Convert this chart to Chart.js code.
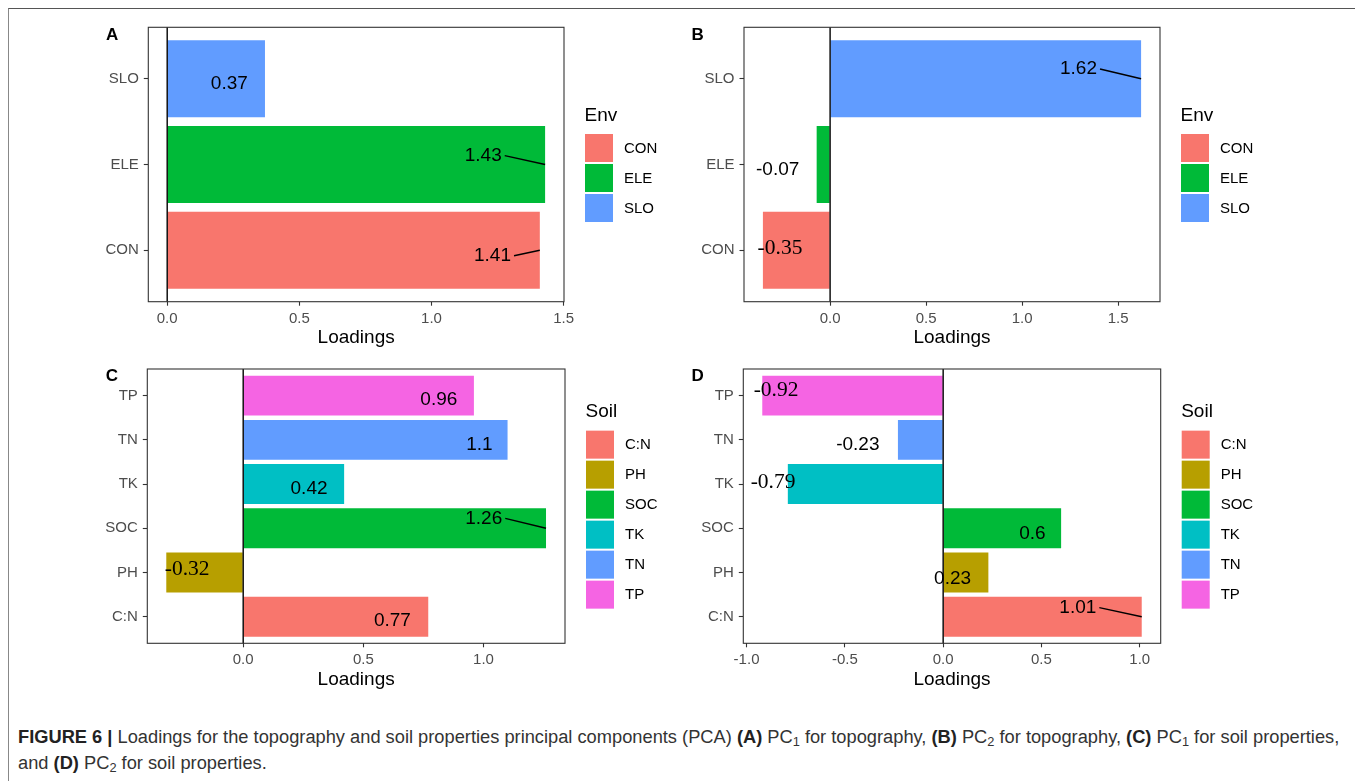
<!DOCTYPE html>
<html><head><meta charset="utf-8">
<script src="https://cdn.jsdelivr.net/npm/chart.js@4.4.1/dist/chart.umd.min.js"></script>
<style>
html,body{margin:0;padding:0;background:#fff;}
body{width:1355px;height:781px;position:relative;overflow:hidden;font-family:"Liberation Sans",Arial,sans-serif;}
.frame{position:absolute;left:8px;top:8px;width:1350px;height:790px;border-top:1.5px solid #555;border-left:1.5px solid #888;}
canvas{position:absolute;}
.cap{position:absolute;left:18px;white-space:nowrap;color:#333;font-size:15.5px;line-height:20px;}
.cap b{color:#222;}
.cap sub{font-size:70%;vertical-align:-3px;line-height:0;}
</style></head><body>
<div class="frame"></div>
<div class="cap" id="cap1" style="top:727px"><b>FIGURE 6 |</b> Loadings for the topography and soil properties principal components (PCA) <b>(A)</b> PC<sub>1</sub> for topography, <b>(B)</b> PC<sub>2</sub> for topography, <b>(C)</b> PC<sub>1</sub> for soil properties,</div>
<div class="cap" id="cap2" style="top:753px">and <b>(D)</b> PC<sub>2</sub> for soil properties.</div>
<script>
// ---- data ----
const envCategories = ['CON', 'ELE', 'SLO'];
const soilCategories = ['C:N', 'PH', 'SOC', 'TK', 'TN', 'TP'];
const pc1Topography = [1.41, 1.43, 0.37];
const pc2Topography = [-0.35, -0.07, 1.62];
const pc1Soil = [0.77, -0.32, 1.26, 0.42, 1.1, 0.96];
const pc2Soil = [1.01, 0.23, 0.6, -0.79, -0.23, -0.92];
const ticksA = [0, 0.5, 1.0, 1.5];
const ticksB = [0, 0.5, 1.0, 1.5];
const ticksC = [0, 0.5, 1.0];
const ticksD = [-1.0, -0.5, 0, 0.5, 1.0];
// repelled label positions (data units: [loading, category index])
const labelPosA = [[1.231, 0.936], [1.196, 2.103], [0.235, 2.939]];
const labelPosB = [[-0.261, 1.023], [-0.273, 1.936], [1.294, 3.114]];
const labelPosC = [[0.621, 0.904], [-0.233, 2.079], [1.001, 3.225], [0.274, 3.888], [0.983, 4.882], [0.814, 5.899]];
const labelPosD = [[0.685, 1.205], [0.048, 1.869], [0.454, 2.886], [-0.865, 4.030], [-0.434, 4.882], [-0.850, 6.125]];
const envColors = ['#F8766D', '#00BA38', '#619CFF'];
const soilColors = ['#F8766D', '#B79F00', '#00BA38', '#00BFC4', '#619CFF', '#F564E3'];

const SANS = '"Liberation Sans", Arial, sans-serif';
const SERIF = '"Liberation Serif", "Times New Roman", serif';
const X_AXIS_H = 50;

const panelPlugin = {
  id: 'panelDecor',
  afterDatasetsDraw(chart) {
    const p = chart.options.plugins.panelDecor;
    const ctx = chart.ctx, a = chart.chartArea, x = chart.scales.x, y = chart.scales.y;
    ctx.save();
    // zero line
    const zx = x.getPixelForValue(0);
    ctx.strokeStyle = '#000'; ctx.lineWidth = 1.4;
    ctx.beginPath(); ctx.moveTo(zx, a.top); ctx.lineTo(zx, a.bottom); ctx.stroke();
    // value labels
    p.labelPos.forEach((lp, i) => {
      const v = p.values[i];
      const txt = String(v);
      const serif = p.serifLabels.includes(p.categories[i]);
      ctx.font = serif ? ('21.5px ' + SERIF) : ('19px ' + SANS);
      ctx.textAlign = 'center'; ctx.textBaseline = 'middle'; ctx.fillStyle = '#000';
      const tx = x.getPixelForValue(lp[0]), ty = y.getPixelForValue(lp[1]);
      ctx.fillText(txt, tx, ty);
      const w = ctx.measureText(txt).width;
      const px = x.getPixelForValue(v), py = y.getPixelForValue(i + 1);
      const gap = v >= 0 ? px - (tx + w / 2) : (tx - w / 2) - px;
      if (gap > 24) {
        const sx = v >= 0 ? tx + w / 2 + 3 : tx - w / 2 - 3;
        ctx.strokeStyle = '#000'; ctx.lineWidth = 1.4;
        ctx.beginPath(); ctx.moveTo(sx, ty); ctx.lineTo(px, py); ctx.stroke();
      }
    });
    // panel border
    ctx.strokeStyle = '#333'; ctx.lineWidth = 1.1;
    ctx.strokeRect(a.left, a.top, a.right - a.left, a.bottom - a.top);
    // legend
    const n = p.categories.length;
    const lx = a.right + 21;
    const cy = (a.top + a.bottom) / 2;
    const ks = cy - (n * 30 + 25) / 2 + 27;
    ctx.textAlign = 'left'; ctx.textBaseline = 'middle';
    ctx.fillStyle = '#000'; ctx.font = '19px ' + SANS;
    ctx.fillText(p.legendTitle, lx - 0.5, ks - 18.5);
    p.categories.forEach((c, i) => {
      ctx.fillStyle = p.colors[i];
      ctx.fillRect(lx, ks + i * 30, 28, 28);
      ctx.fillStyle = '#000'; ctx.font = '15px ' + SANS;
      ctx.fillText(c, lx + 39, ks + i * 30 + 14.5);
    });
    // panel letter
    ctx.font = 'bold 17px ' + SANS; ctx.textBaseline = 'alphabetic'; ctx.fillStyle = '#000';
    ctx.fillText(p.letter, p.letterPos[0] - p.box[0], p.letterPos[1] - p.box[1]);
    ctx.restore();
  }
};

function buildPanel(p) {
  const canvas = document.createElement('canvas');
  canvas.width = p.box[2]; canvas.height = p.box[3];
  canvas.style.left = p.box[0] + 'px'; canvas.style.top = p.box[1] + 'px';
  canvas.style.width = p.box[2] + 'px'; canvas.style.height = p.box[3] + 'px';
  document.body.appendChild(canvas);
  const n = p.categories.length;
  const lo = Math.min(0, ...p.values), hi = Math.max(0, ...p.values);
  const pad = (hi - lo) * 0.05;
  new Chart(canvas, {
    type: 'bar',
    data: {
      datasets: [{
        data: p.values.map((v, i) => ({ x: v, y: i + 1 })),
        backgroundColor: p.colors, borderWidth: 0,
        barPercentage: 0.9, categoryPercentage: 1
      }]
    },
    options: {
      indexAxis: 'y', responsive: false, animation: false, devicePixelRatio: 1, events: [],
      layout: { padding: {
        left: 0,
        top: p.area.t - p.box[1],
        right: p.box[0] + p.box[2] - p.area.r,
        bottom: p.box[1] + p.box[3] - p.area.b - X_AXIS_H } },
      plugins: { legend: { display: false }, tooltip: { enabled: false }, panelDecor: p },
      scales: {
        x: {
          type: 'linear', position: 'bottom', min: lo - pad, max: hi + pad, offset: false,
          afterBuildTicks: s => { s.ticks = p.xTicks.map(v => ({ value: v })); },
          afterFit: s => { s.height = X_AXIS_H; },
          ticks: { callback: v => Number(v).toFixed(1), color: '#4D4D4D', font: { family: SANS, size: 15 }, padding: 4, maxRotation: 0, autoSkip: false },
          grid: { offset: false, drawOnChartArea: false, drawTicks: true, tickLength: 4, tickColor: '#333', tickWidth: 1.1 },
          border: { display: false },
          title: { display: true, text: 'Loadings', color: '#000', font: { family: SANS, size: 19 }, padding: { top: 0, bottom: 2.6 } }
        },
        y: {
          type: 'linear', position: 'left', min: 0.4, max: n + 0.6, offset: false, bounds: 'data',
          afterBuildTicks: s => { s.ticks = p.categories.map((c, i) => ({ value: i + 1 })); },
          afterFit: s => { s.width = p.area.l - p.box[0]; },
          ticks: { callback: v => p.categories[Math.round(v) - 1], color: '#4D4D4D', font: { family: SANS, size: 15 }, padding: 5, autoSkip: false },
          grid: { offset: false, drawOnChartArea: false, drawTicks: true, tickLength: 4.5, tickColor: '#333', tickWidth: 1.1 },
          border: { display: false }
        }
      }
    },
    plugins: [panelPlugin]
  });
}

buildPanel({ letter: 'A', letterPos: [106, 40], box: [95, 5, 590, 350], area: { l: 148.3, r: 564, t: 27.3, b: 301.7 },
  categories: envCategories, values: pc1Topography, colors: envColors, xTicks: ticksA, labelPos: labelPosA, serifLabels: [], legendTitle: 'Env' });
buildPanel({ letter: 'B', letterPos: [691.5, 39.5], box: [685, 5, 620, 350], area: { l: 744, r: 1160, t: 27.3, b: 301.7 },
  categories: envCategories, values: pc2Topography, colors: envColors, xTicks: ticksB, labelPos: labelPosB, serifLabels: ['CON'], legendTitle: 'Env' });
buildPanel({ letter: 'C', letterPos: [105.7, 381], box: [95, 345, 590, 352], area: { l: 147.3, r: 565, t: 369, b: 643.3 },
  categories: soilCategories, values: pc1Soil, colors: soilColors, xTicks: ticksC, labelPos: labelPosC, serifLabels: ['PH'], legendTitle: 'Soil' });
buildPanel({ letter: 'D', letterPos: [691.5, 381], box: [685, 345, 620, 352], area: { l: 743.3, r: 1160.7, t: 369, b: 643.3 },
  categories: soilCategories, values: pc2Soil, colors: soilColors, xTicks: ticksD, labelPos: labelPosD, serifLabels: ['TK', 'TP'], legendTitle: 'Soil' });

// fit caption first line to the reference width
(function () {
  const c1 = document.getElementById('cap1'), c2 = document.getElementById('cap2');
  const target = 1323;
  const w = c1.getBoundingClientRect().width;
  const fs = 15.5 * target / w;
  c1.style.fontSize = fs + 'px'; c2.style.fontSize = fs + 'px';
})();
</script>
</body></html>
